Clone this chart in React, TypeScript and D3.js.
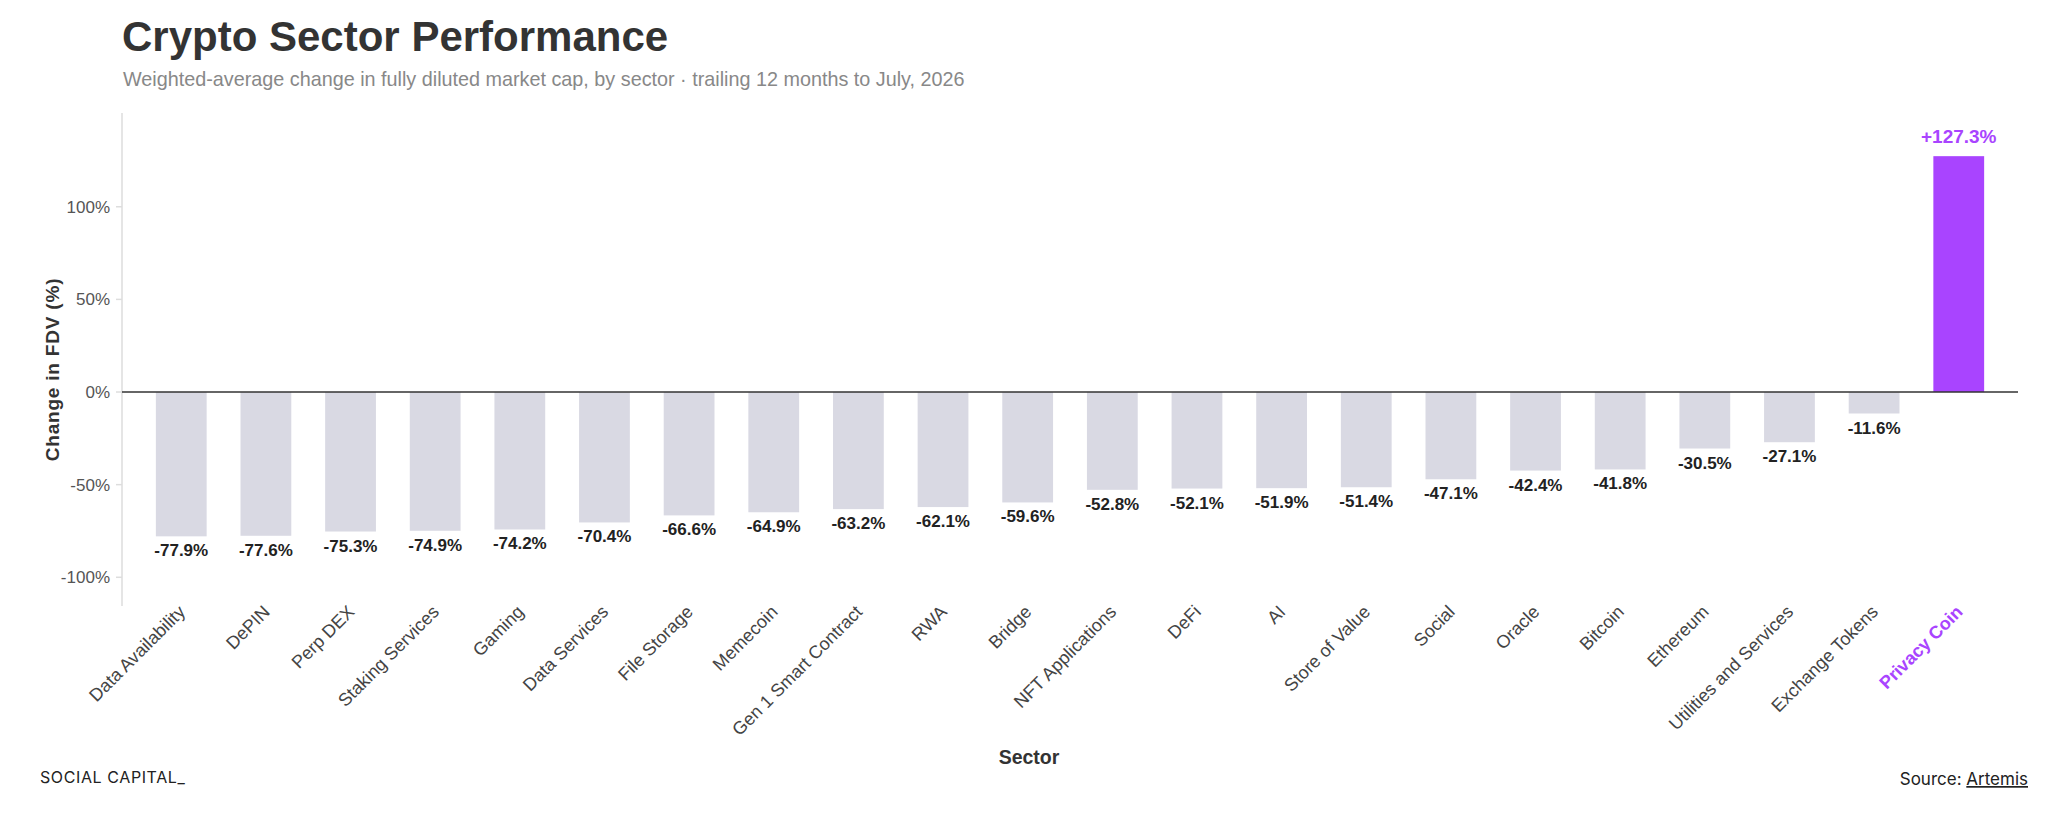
import * as d3 from "d3";

const sectors = [
  "Data Availability", "DePIN", "Perp DEX", "Staking Services", "Gaming",
  "Data Services", "File Storage", "Memecoin", "Gen 1 Smart Contract", "RWA",
  "Bridge", "NFT Applications", "DeFi", "AI", "Store of Value", "Social",
  "Oracle", "Bitcoin", "Ethereum", "Utilities and Services", "Exchange Tokens",
  "Privacy Coin",
];
const changes = [
  -77.9, -77.6, -75.3, -74.9, -74.2, -70.4, -66.6, -64.9, -63.2, -62.1,
  -59.6, -52.8, -52.1, -51.9, -51.4, -47.1, -42.4, -41.8, -30.5, -27.1,
  -11.6, 127.3,
];
const highlight = "Privacy Coin";
const yTicks = [-100, -50, 0, 50, 100];

const W = 2048;
const H = 819;
const left = 122;
const right = 2018;
const top = 113;
const bottom = 606;

const FONT = "'Liberation Sans', Arial, Helvetica, sans-serif";
const PURPLE = "#a944ff";

export default function App() {
  const x = d3
    .scaleBand()
    .domain(sectors)
    .range([left, right])
    .paddingInner(0.4)
    .paddingOuter(0.4);

  const y = d3.scaleLinear().domain([-115.5, 150.6]).range([bottom, top]);

  const fmt = (v: number) => (v > 0 ? "+" : "") + v.toFixed(1) + "%";

  return (
    <svg
      width={W}
      height={H}
      style={{ position: "absolute", left: 0, top: 0, background: "#fff" }}
      fontFamily={FONT}
    >
      {/* header */}
      <text x={122} y={51} fontSize={42} fontWeight="bold" fill="#333">
        Crypto Sector Performance
      </text>
      <text x={123} y={86} fontSize={19.8} fill="#888">
        Weighted-average change in fully diluted market cap, by sector · trailing 12 months to July, 2026
      </text>

      {/* y axis */}
      <line x1={left} x2={left} y1={top} y2={bottom} stroke="#ddd" strokeWidth={1.5} />
      {yTicks.map((t) => (
        <g key={t} transform={`translate(0,${y(t)})`}>
          <line x1={left - 6} x2={left} stroke="#ddd" strokeWidth={1.5} />
          <text x={left - 12} dy="0.35em" textAnchor="end" fontSize={17} fill="#555">
            {t}%
          </text>
        </g>
      ))}
      <text
        transform={`translate(59,${(top + bottom) / 2 + 10}) rotate(-90)`}
        textAnchor="middle"
        fontSize={19}
        fontWeight="bold"
        fill="#333"
        letterSpacing={0.8}
      >
        Change in FDV (%)
      </text>

      {/* bars */}
      {sectors.map((s, i) => {
        const v = changes[i];
        const hi = s === highlight;
        return (
          <g key={s}>
            <rect
              x={x(s)}
              y={Math.min(y(v), y(0))}
              width={x.bandwidth()}
              height={Math.abs(y(v) - y(0))}
              fill={hi ? PURPLE : "#d9d9e3"}
            />
            <text
              x={x(s)! + x.bandwidth() / 2}
              y={v < 0 ? y(v) + 20 : y(v) - 13}
              textAnchor="middle"
              fontSize={hi ? 19 : 17}
              fontWeight="bold"
              fill={hi ? PURPLE : "#222"}
            >
              {fmt(v)}
            </text>
          </g>
        );
      })}

      {/* zero line */}
      <line x1={left} x2={right} y1={y(0)} y2={y(0)} stroke="#333" strokeWidth={1.5} />

      {/* x labels */}
      {sectors.map((s) => {
        const hi = s === highlight;
        return (
          <text
            key={s}
            transform={`translate(${x(s)! + x.bandwidth() / 2 + 5},${bottom + 7}) rotate(-45)`}
            textAnchor="end"
            fontSize={18}
            fontWeight={hi ? "bold" : "normal"}
            fill={hi ? PURPLE : "#444"}
          >
            {s}
          </text>
        );
      })}
      <text x={1029} y={764} textAnchor="middle" fontSize={19.5} fontWeight="bold" fill="#333">
        Sector
      </text>

      {/* footer */}
      <text x={40} y={783} fontSize={16} fill="#222" fontFamily="Inter, sans-serif" letterSpacing={0.6}>
        SOCIAL CAPITAL_
      </text>
      <text x={2028} y={785} textAnchor="end" fontSize={17} fill="#222" fontFamily="Inter, sans-serif">
        Source: <tspan textDecoration="underline">Artemis</tspan>
      </text>
    </svg>
  );
}
